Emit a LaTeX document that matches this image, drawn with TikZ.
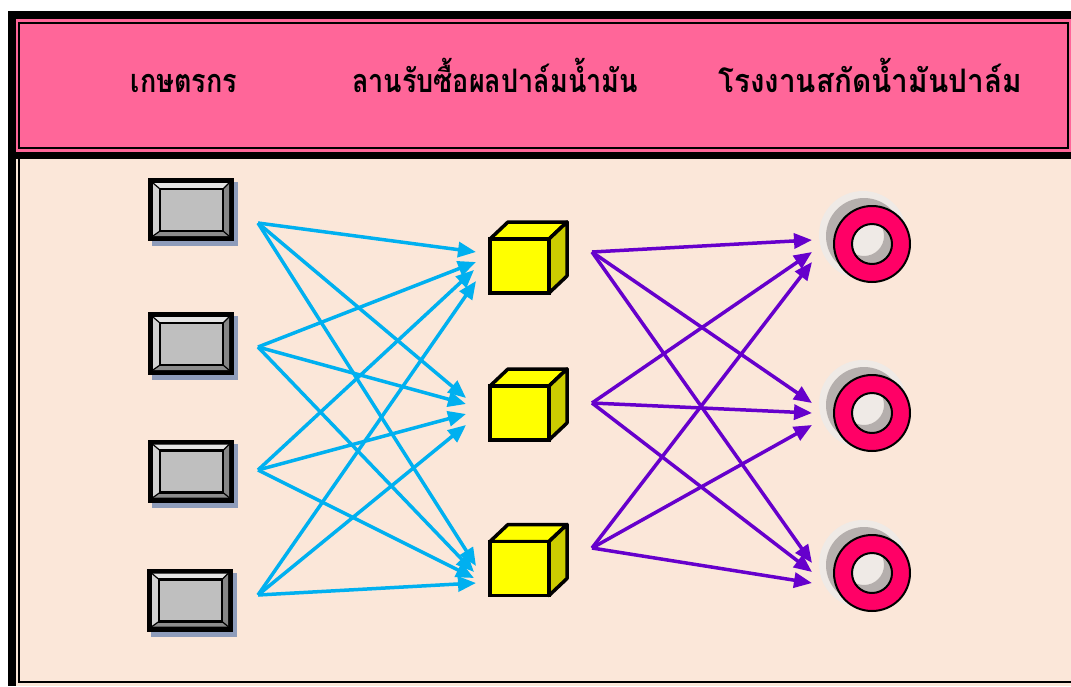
\documentclass[tikz,border=0pt]{standalone}
\usepackage{fontspec}
\newfontfamily\thaifont[Script=Thai]{Loma}
\usetikzlibrary{arrows.meta,calc}

\definecolor{bodybg}{HTML}{FBE7D9}
\definecolor{headpink}{HTML}{FF6699}
\definecolor{ringpink}{HTML}{FF0066}
\definecolor{cubeyel}{HTML}{FFFF00}
\definecolor{cubeside}{HTML}{CCCC00}
\definecolor{flowblue}{HTML}{00B0F0}
\definecolor{flowpurple}{HTML}{6600CC}
\definecolor{boxshadow}{HTML}{8E9CBA}
\definecolor{ringshadow}{HTML}{B5AFAD}
\definecolor{ringhalo}{HTML}{EFEAE6}

\tikzset{
  headtext/.style={font=\thaifont\bfseries\fontsize{27}{32}\selectfont, anchor=base, inner sep=0},
  farmernode/.style={rectangle, fill=black, minimum width=86pt, minimum height=63pt, inner sep=0},
  cubenode/.style={rectangle, draw=black, fill=cubeyel, line width=3.5pt, minimum width=59pt, minimum height=54pt, inner sep=0},
  ringnode/.style={circle, minimum size=76pt, inner sep=0},
  bluearrow/.style={draw=flowblue, line width=3.5pt, -{Triangle[length=18pt,width=15pt]}},
  purplearrow/.style={draw=flowpurple, line width=3.5pt, -{Triangle[length=18pt,width=15pt]}},
  cubeface/.style={draw=black, line width=3.5pt, line join=round},
}

% farmer: bevelled grey box with a drop shadow
\newcommand\farmer[2]{%
  \begin{scope}[shift={(#2)}]
    \fill[boxshadow] (-39,-27.5) rectangle (47,36.5);
    \node[farmernode] (#1) at (0,0) {};
    \fill[gray!20] (-38,-26.5) -- (38,-26.5) -- (32,-20.5) -- (-31,-20.5) -- cycle;
    \fill[gray!35] (-38,-26.5) -- (-31,-20.5) -- (-31,21.5) -- (-38,26.5) -- cycle;
    \fill[gray!95!white] (38,-26.5) -- (38,26.5) -- (32,21.5) -- (32,-20.5) -- cycle;
    \fill[gray!110!black] (-38,26.5) -- (38,26.5) -- (32,21.5) -- (-31,21.5) -- cycle;
    \draw[line width=1.2pt] (-38,-26.5) -- (-31,-20.5) (38,-26.5) -- (32,-20.5)
      (38,26.5) -- (32,21.5) (-38,26.5) -- (-31,21.5);
    \draw[line width=2.5pt, fill=gray!50] (-31,-20.5) rectangle (32,21.5);
  \end{scope}}

% collection yard: yellow cube
\newcommand\yard[2]{%
  \begin{scope}[shift={(#2)}]
    \draw[cubeface, fill=cubeyel] (-29.5,-27) -- (29.5,-27) -- (47.5,-44) -- (-11.5,-44) -- cycle;
    \draw[cubeface, fill=cubeside] (29.5,-27) -- (47.5,-44) -- (47.5,10) -- (29.5,27) -- cycle;
    \node[cubenode] (#1) at (0,0) {};
  \end{scope}}

% extraction mill: pink ring with shadow
\newcommand\mill[2]{%
  \begin{scope}[shift={(#2)}]
    \fill[ringhalo] (-9,-9) circle (44);
    \fill[ringshadow, even odd rule] (-8,-8) circle (38) (-8,-8) circle (20);
    \draw[fill=ringpink, even odd rule, line width=2pt] (0,0) circle (38) (0,0) circle (20);
    \node[ringnode] (#1) at (0,0) {};
  \end{scope}}

\begin{document}
\begin{tikzpicture}[x=1pt,y=-1pt]
  \useasboundingbox (0,0) rectangle (1071,686);
  \fill[white] (0,0) rectangle (1071,686);

  % frame
  \fill[bodybg] (8,11) rectangle (1071,686);
  \fill[headpink] (16,19) rectangle (1071,152);
  \draw[line width=2pt] (19,23) rectangle (1068,147.5);
  \fill[black] (8,11) rectangle (1071,19);
  \fill[black] (8,11) rectangle (16,686);
  \fill[black] (16,152) rectangle (1071,159);
  \draw[line width=2pt] (19,159) -- (19,682) -- (1071,682);

  % column headings
  \node[headtext] (h1) at (184,92) {\scalebox{1}[1.2]{เกษตรกร}};
  \node[headtext] (h2) at (495,92) {\scalebox{1}[1.2]{ลานรับซื้อผลปาล์มน้ำมัน}};
  \node[headtext] (h3) at (870,92) {\scalebox{1.1}[1.2]{โรงงานสกัดน้ำมันปาล์ม}};

  % farmers
  \farmer{farmer1}{191,209.5}
  \farmer{farmer2}{191,343.5}
  \farmer{farmer3}{191,471}
  \farmer{farmer4}{190,600}

  % collection yards
  \yard{yard1}{519.5,266}
  \yard{yard2}{519.5,413}
  \yard{yard3}{519.5,568.5}

  % mills
  \mill{mill1}{872,244}
  \mill{mill2}{872,413}
  \mill{mill3}{872,573}

  % connector ends
  \coordinate (f1out) at (258,223);
  \coordinate (f2out) at (258,347);
  \coordinate (f3out) at (258,470);
  \coordinate (f4out) at (258,595);
  \coordinate (y1in1) at (476,252);
  \coordinate (y1in2) at (476,262);
  \coordinate (y1in3) at (474,270);
  \coordinate (y1in4) at (476,281);
  \coordinate (y2in1) at (466,398);
  \coordinate (y2in2) at (466,404);
  \coordinate (y2in3) at (466,414);
  \coordinate (y2in4) at (466,425);
  \coordinate (y3in1) at (476,566);
  \coordinate (y3in2) at (474,572);
  \coordinate (y3in3) at (474,578);
  \coordinate (y3in4) at (476,583);
  \coordinate (y1out) at (592,252);
  \coordinate (y2out) at (592,403);
  \coordinate (y3out) at (592,548);
  \coordinate (m1in1) at (812,240);
  \coordinate (m1in2) at (812,252);
  \coordinate (m1in3) at (812,262);
  \coordinate (m2in1) at (812,403);
  \coordinate (m2in2) at (812,413);
  \coordinate (m2in3) at (812,425);
  \coordinate (m3in1) at (812,563);
  \coordinate (m3in2) at (812,572);
  \coordinate (m3in3) at (812,583);

  % farmers to yards
  \foreach \f in {1,2,3,4}{
    \foreach \y in {1,2,3}{
      \draw[bluearrow] (f\f out) -- (y\y in\f);
    }
  }
  % yards to mills
  \foreach \y in {1,2,3}{
    \foreach \m in {1,2,3}{
      \draw[purplearrow] (y\y out) -- (m\m in\y);
    }
  }
\end{tikzpicture}
\end{document}
